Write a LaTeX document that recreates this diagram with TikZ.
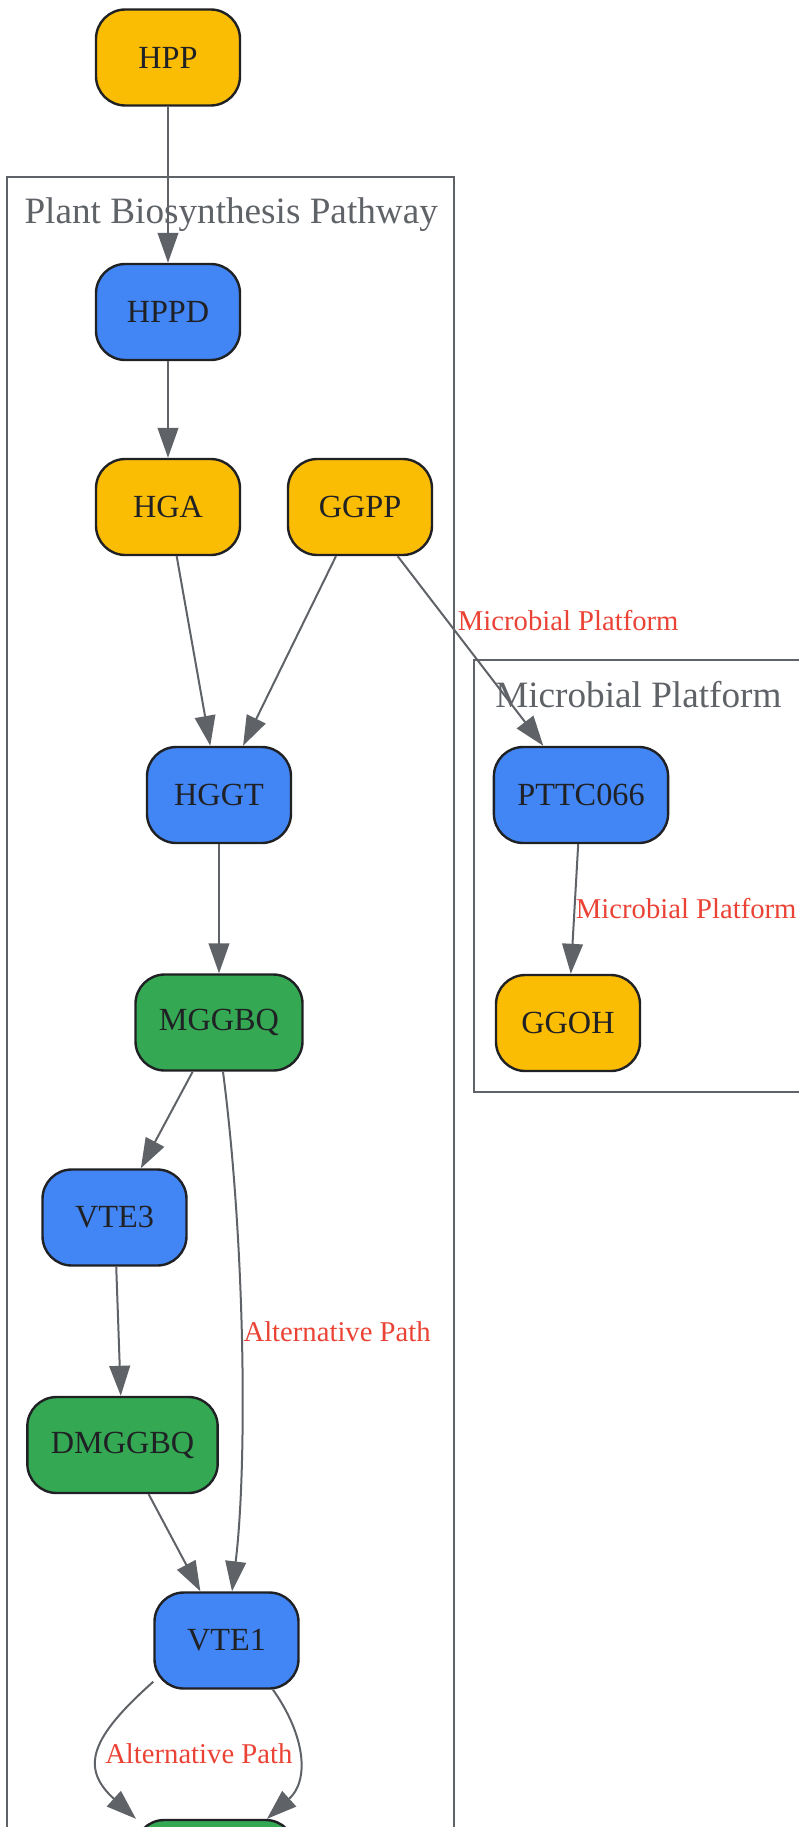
\documentclass[tikz,border=0pt]{standalone}
\usepackage{fontspec}
\setmainfont{Liberation Serif}
\usepackage{xcolor}
\usepackage{tikz}
\usetikzlibrary{arrows.meta,calc}

\definecolor{gyellow}{HTML}{FBBC04}
\definecolor{gblue}{HTML}{4285F4}
\definecolor{ggreen}{HTML}{34A853}
\definecolor{gline}{HTML}{5F6368}
\definecolor{gred}{HTML}{EA4335}
\definecolor{gtext}{HTML}{202124}

\begin{document}
\begin{tikzpicture}[
    x=0.75pt, y=-0.75pt,
    mnode/.style={draw=gtext, line width=1.8pt, rectangle, rounded corners=22pt,
      minimum width=108pt, minimum height=72pt, inner xsep=17.6pt,
      text=gtext, font=\fontsize{24.2}{29}\selectfont},
    mol/.style={mnode, fill=gyellow},
    enz/.style={mnode, fill=gblue},
    prod/.style={mnode, fill=ggreen},
    clus/.style={draw=gline, line width=1.5pt},
    clab/.style={text=gline, anchor=base west, inner sep=0pt, font=\fontsize{27.9}{33}\selectfont},
    elab/.style={text=gred, anchor=base west, inner sep=0pt, font=\fontsize{21.5}{26}\selectfont},
    flow/.style={draw=gline, line width=1.5pt, -{Triangle[length=22.5pt, width=15.5pt]}}
  ]
  \useasboundingbox (0,0) rectangle (799,1827);
  \clip (0,0) rectangle (799,1827);

  % 子图框
  \draw[clus] (7.3,177.3) rectangle (453.7,1900);
  \draw[clus] (474,660) rectangle (830,1091.7);
  \node[clab] (plantlab) at (24.3,223.3) {Plant Biosynthesis Pathway};
  \node[clab] (microlab) at (495,707.3) {Microbial Platform};

  % 植物合成路径
  \node[mol] (hpp) at (168,57.5) {HPP};
  \node[enz] (hppd) at (168,312) {HPPD};
  \node[mol] (hga) at (168,507) {HGA};
  \node[mol] (ggpp) at (360,507) {GGPP};
  \node[enz] (hggt) at (219,795) {HGGT};
  \node[prod] (mggbq) at (219,1022.5) {MGGBQ};
  \node[enz] (vte3) at (114.5,1217.5) {VTE3};
  \node[prod] (dmggbq) at (122.5,1445) {DMGGBQ};
  \node[enz] (vte1) at (226.5,1640.5) {VTE1};
  \node[prod, minimum width=120pt] (toc) at (215,1868) {};

  % 微生物平台
  \node[enz] (pttc) at (581,795) {PTTC066};
  \node[mol] (ggoh) at (568,1023) {GGOH};

  % 边
  \draw[flow] (hpp) -- (hppd);
  \draw[flow] (hppd) -- (hga);
  \draw[flow] (hga) -- (hggt);
  \draw[flow] (ggpp) -- (hggt);
  \draw[flow] (ggpp) -- (pttc);
  \draw[flow] (pttc) -- (ggoh);
  \draw[flow] (hggt) -- (mggbq);
  \draw[flow] (mggbq) -- (vte3);
  \draw[flow] (vte3) -- (dmggbq);
  \draw[flow] (dmggbq) -- (vte1);
  \draw[flow] ($(mggbq.south)+(4,0)$) .. controls (246,1250) and (247,1470) .. ($(vte1.north)+(5.5,0)$);
  \draw[flow] ($(vte1.south west)+(0,-8)$) .. controls (90,1738) and (80,1768) .. ($(toc.north)+(-79,0)$);
  \draw[flow] ($(vte1.south)+(46.5,0)$) .. controls (305,1735) and (310,1780) .. ($(toc.north)+(52,0)$);

  % 边标签
  \node[elab] (lab1) at (457.7,630.7) {Microbial Platform};
  \node[elab] (lab2) at (575.7,918) {Microbial Platform};
  \node[elab] (lab3) at (243.3,1341.5) {Alternative Path};
  \node[elab] (lab4) at (105,1763.5) {Alternative Path};
\end{tikzpicture}
\end{document}
